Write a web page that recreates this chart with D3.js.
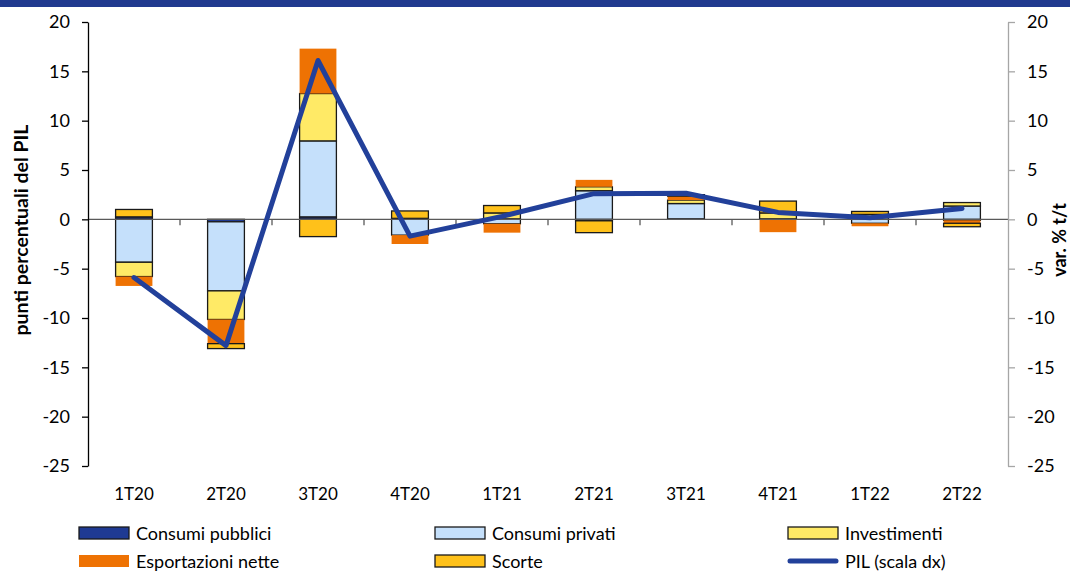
<!DOCTYPE html>
<html>
<head>
<meta charset="utf-8">
<script src="https://cdn.jsdelivr.net/npm/d3@7"></script>
<style>
  html, body { margin: 0; padding: 0; background: #fff; }
  svg { display: block; font-family: Lato, "Open Sans", sans-serif; }
</style>
</head>
<body>
<svg id="chart" width="1070" height="571"></svg>
<script>
const categories = ['1T20','2T20','3T20','4T20','1T21','2T21','3T21','4T21','1T22','2T22'];
const consumiPubblici = [0.25, -0.25, 0.25, 0.1, 0.05, -0.15, 0.05, 0.05, 0.0, -0.1];
const consumiPrivati  = [-4.35, -7.0, 7.7, -1.6, -0.45, 2.9, 1.55, 0.0, -0.4, 1.35];
const investimenti    = [-1.45, -2.9, 4.8, 0.0, 0.6, 0.4, 0.35, 0.6, 0.5, 0.35];
const esportazioni    = [-0.95, -2.45, 4.55, -0.9, -0.9, 0.7, 0.4, -1.3, -0.3, -0.3];
const scorte          = [0.75, -0.5, -1.75, 0.75, 0.75, -1.2, 0.15, 1.2, 0.3, -0.35];
const pil             = [-5.9, -12.8, 16.1, -1.7, 0.3, 2.6, 2.65, 0.7, 0.15, 1.1];
const yTicks = [-25, -20, -15, -10, -5, 0, 5, 10, 15, 20];

const seriesKeys = ['pubblici','privati','invest','export','scorte'];
const seriesNames = {pubblici:'Consumi pubblici', privati:'Consumi privati', invest:'Investimenti', export:'Esportazioni nette', scorte:'Scorte'};
const colors = {pubblici:'#1f3a93', privati:'#c5e0fb', invest:'#ffea66', export:'#ee7203', scorte:'#ffc11a'};
const stroked = {pubblici:true, privati:true, invest:true, export:false, scorte:true};
const lineColor = '#22409a';

const rows = categories.map((c, i) => ({
  cat: c, pubblici: consumiPubblici[i], privati: consumiPrivati[i], invest: investimenti[i],
  export: esportazioni[i], scorte: scorte[i]
}));

const svg = d3.select('#chart');
const W = 1070, H = 571;
const pLeft = 88, pRight = 1008, pTop = 22, pBottom = 466;
const fmt = d => String(d);

// top banner
svg.append('rect').attr('x', 0).attr('y', 0).attr('width', W).attr('height', 7).attr('fill', '#213a8f');

const x = d3.scaleBand().domain(categories).range([pLeft, pRight]).paddingInner(0.6).paddingOuter(0.3);
const y = d3.scaleLinear().domain([-25, 20]).range([pBottom, pTop]);
const yR = d3.scaleLinear().domain([-25, 20]).range([pBottom, pTop]);

const stacked = d3.stack().keys(seriesKeys).offset(d3.stackOffsetDiverging)(rows);

// bars
const gBars = svg.append('g');
stacked.forEach(s => {
  gBars.append('g').selectAll('rect').data(s).join('rect')
    .attr('x', d => x(d.data.cat))
    .attr('width', x.bandwidth())
    .attr('y', d => y(Math.max(d[0], d[1])))
    .attr('height', d => Math.abs(y(d[0]) - y(d[1])))
    .attr('fill', colors[s.key])
    .attr('stroke', stroked[s.key] ? '#1a1a1a' : 'none')
    .attr('stroke-width', stroked[s.key] ? 1.3 : 0);
});

// x axis line at zero with separators
const gx = svg.append('g');
gx.append('line').attr('x1', pLeft).attr('x2', pRight).attr('y1', y(0)).attr('y2', y(0))
  .attr('stroke', '#595959').attr('stroke-width', 1.3);
const step = x.step();
d3.range(1, categories.length).forEach(k => {
  const xx = pLeft + step * k;
  gx.append('line').attr('x1', xx).attr('x2', xx).attr('y1', y(0)).attr('y2', y(0) + 6)
    .attr('stroke', '#595959').attr('stroke-width', 1.3);
});

// category labels
const axB = svg.append('g').attr('transform', `translate(0,${pBottom})`)
  .call(d3.axisBottom(x).tickSize(0).tickPadding(22));
axB.select('.domain').remove();
axB.selectAll('text').attr('font-size', 17).attr('fill', '#000').attr('font-family', 'Lato, sans-serif');

// left axis
const axL = svg.append('g').attr('transform', `translate(${pLeft},0)`)
  .call(d3.axisLeft(y).tickValues(yTicks).tickSize(6).tickSizeOuter(0).tickPadding(12).tickFormat(fmt));
axL.select('.domain').attr('stroke', '#000').attr('stroke-width', 1.3);
axL.selectAll('.tick line').attr('stroke', '#000').attr('stroke-width', 1.3);
axL.selectAll('text').attr('font-size', 18).attr('fill', '#000').attr('font-family', 'Lato, sans-serif');

// right axis
const axR = svg.append('g').attr('transform', `translate(${pRight},0)`)
  .call(d3.axisRight(yR).tickValues(yTicks).tickSize(7).tickSizeOuter(0).tickPadding(12).tickFormat(fmt));
axR.select('.domain').attr('stroke', '#a6a6a6').attr('stroke-width', 1.3);
axR.selectAll('.tick line').attr('stroke', '#a6a6a6').attr('stroke-width', 1.3);
axR.selectAll('text').attr('font-size', 18).attr('fill', '#000').attr('font-family', 'Lato, sans-serif');

// PIL line
const line = d3.line().x((d, i) => x(categories[i]) + x.bandwidth() / 2).y(d => yR(d));
svg.append('path').datum(pil).attr('d', line).attr('fill', 'none')
  .attr('stroke', lineColor).attr('stroke-width', 5)
  .attr('stroke-linejoin', 'round').attr('stroke-linecap', 'round');

// axis titles
svg.append('text').attr('transform', 'translate(20,230) rotate(-90)')
  .attr('text-anchor', 'middle').attr('dominant-baseline', 'central').attr('font-size', 19.5).attr('font-weight', 'bold')
  .text('punti percentuali del PIL');
svg.append('text').attr('transform', 'translate(1059,240) rotate(-90)')
  .attr('text-anchor', 'middle').attr('dominant-baseline', 'central').attr('font-size', 18).attr('font-weight', 'bold')
  .text('var. % t/t');

// legend
const legendItems = [
  {key:'pubblici', col:0, row:0}, {key:'privati', col:1, row:0}, {key:'invest', col:2, row:0},
  {key:'export', col:0, row:1}, {key:'scorte', col:1, row:1}, {key:'pil', col:2, row:1}
];
const colX = [79, 435, 788];
const rowY = [533, 561];
const gL = svg.append('g');
legendItems.forEach(it => {
  const gx0 = colX[it.col], gy0 = rowY[it.row];
  if (it.key === 'pil') {
    gL.append('line').attr('x1', gx0 + 2).attr('x2', gx0 + 48).attr('y1', gy0).attr('y2', gy0)
      .attr('stroke', lineColor).attr('stroke-width', 5).attr('stroke-linecap', 'round');
  } else {
    gL.append('rect').attr('x', gx0).attr('y', gy0 - 6).attr('width', 50).attr('height', 12)
      .attr('fill', colors[it.key])
      .attr('stroke', stroked[it.key] ? '#1a1a1a' : 'none').attr('stroke-width', 1.3);
  }
  gL.append('text').attr('x', gx0 + 57).attr('y', gy0).attr('dominant-baseline', 'central')
    .attr('font-size', 18).text(it.key === 'pil' ? 'PIL (scala dx)' : seriesNames[it.key]);
});
</script>
</body>
</html>
